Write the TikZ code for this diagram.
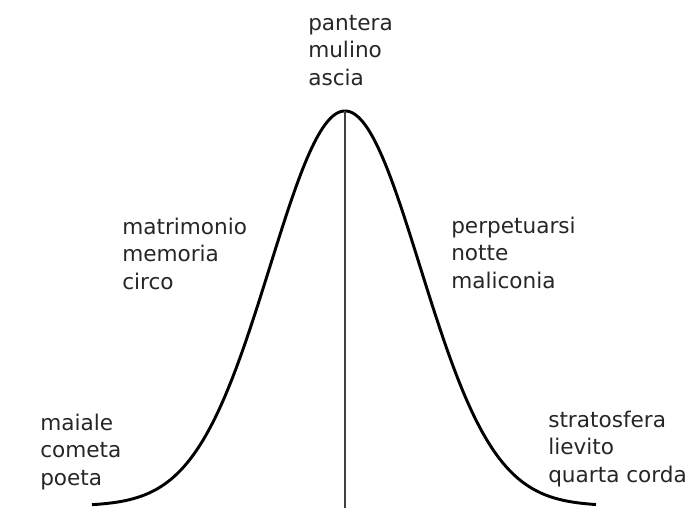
\documentclass[tikz,border=0pt]{standalone}
\usepackage{fontspec}
\setmainfont{DejaVu Sans}
\begin{document}
\begin{tikzpicture}[x=0.75pt,y=-0.75pt,
  lbl/.style={anchor=base west,inner sep=0pt,align=left,text=black!85,
    font=\fontsize{16.2}{20.6}\selectfont},
  bell/.style={line width=2.2pt,line join=round},
  axisline/.style={line width=0.8pt,draw=black!75}]
\useasboundingbox (0,0) rectangle (687,508);
\coordinate (peak) at (345,111);
\coordinate (foot) at (345,508);
\draw[bell] plot[domain=92:596,samples=240] (\x,{506-395*exp(-0.5*((\x-345)/75)^2)});
\draw[axisline] (peak) -- (foot);
\node[lbl] (top) at (308,85) {pantera\\mulino\\ascia};
\node[lbl] (midleft) at (122,289) {matrimonio\\memoria\\circo};
\node[lbl] (midright) at (451,288) {perpetuarsi\\notte\\maliconia};
\node[lbl] (lowleft) at (40,485) {maiale\\cometa\\poeta};
\node[lbl] (lowright) at (548,482) {stratosfera\\lievito\\quarta corda};
\end{tikzpicture}
\end{document}
